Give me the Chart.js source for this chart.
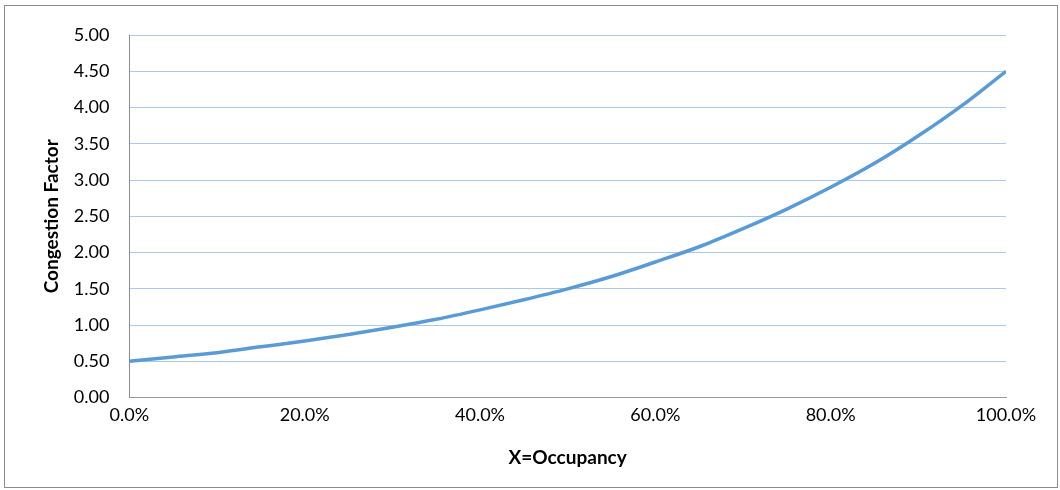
<!DOCTYPE html>
<html>
<head>
<meta charset="utf-8">
<script src="https://cdn.jsdelivr.net/npm/chart.js@4"></script>
<style>
  html, body { margin: 0; padding: 0; background: #fff; }
  .frame { position: absolute; left: 4px; top: 5px; width: 1052px; height: 481px; border: 1px solid #8c8c8c; }
  .wrap { position: absolute; left: 0; top: 0; width: 1060px; height: 490px; }
</style>
</head>
<body>
<div class="frame"></div>
<div class="wrap"><canvas id="chart" width="1060" height="490"></canvas></div>
<script>
// occupancy (%) and congestion factor
const occupancy = [0, 5, 10, 15, 20, 25, 30, 35, 40, 45, 50, 55, 60, 65, 70, 75, 80, 85, 90, 95, 100];
const congestion = [0.50, 0.56, 0.62, 0.70, 0.78, 0.87, 0.97, 1.08, 1.21, 1.35, 1.50, 1.67, 1.87, 2.08, 2.33, 2.60, 2.90, 3.23, 3.61, 4.03, 4.50];
const xTicks = [0, 20, 40, 60, 80, 100];
const yTicks = [0, 0.5, 1, 1.5, 2, 2.5, 3, 3.5, 4, 4.5, 5];

const FONT = "Lato, 'Open Sans', sans-serif";

const points = occupancy.map((x, i) => ({ x, y: congestion[i] }));

new Chart(document.getElementById('chart'), {
  type: 'line',
  data: {
    datasets: [{
      label: 'Congestion Factor',
      data: points,
      borderColor: '#5b9bd5',
      borderWidth: 3.5,
      pointRadius: 0,
      cubicInterpolationMode: 'monotone',
      fill: false,
    }],
  },
  options: {
    responsive: false,
    animation: false,
    layout: { padding: { left: 40, right: 54, top: 35, bottom: 17 } },
    plugins: { legend: { display: false }, tooltip: { enabled: false } },
    scales: {
      x: {
        type: 'linear',
        min: 0,
        max: 100,
        afterBuildTicks: (axis) => { axis.ticks = xTicks.map(v => ({ value: v })); },
        grid: { display: false, drawTicks: false },
        border: { display: true, color: '#9a9a9a', width: 1, dash: [6, 3, 1, 3] },
        ticks: {
          color: '#000',
          font: { family: FONT, size: 18 },
          padding: 7,
          maxRotation: 0,
          callback: (v) => v.toFixed(1) + '%',
        },
        title: {
          display: true,
          text: 'X=Occupancy',
          color: '#000',
          font: { family: FONT, size: 19, weight: 'bold' },
          padding: { top: 13 },
        },
      },
      y: {
        min: 0,
        max: 5,
        afterBuildTicks: (axis) => { axis.ticks = yTicks.map(v => ({ value: v })); },
        grid: {
          drawTicks: false,
          color: (ctx) => ctx.tick && ctx.tick.value === 0 ? 'rgba(0,0,0,0)' : '#a9c8ee',
          lineWidth: 1,
        },
        border: { display: true, color: '#8c8c8c', width: 1 },
        ticks: {
          color: '#000',
          font: { family: FONT, size: 18 },
          padding: 20,
          callback: (v) => v.toFixed(2),
        },
        title: {
          display: true,
          text: 'Congestion Factor',
          color: '#000',
          font: { family: FONT, size: 19, weight: 'bold' },
          padding: { top: 0, bottom: -9 },
        },
      },
    },
  },
});
</script>
</body>
</html>
